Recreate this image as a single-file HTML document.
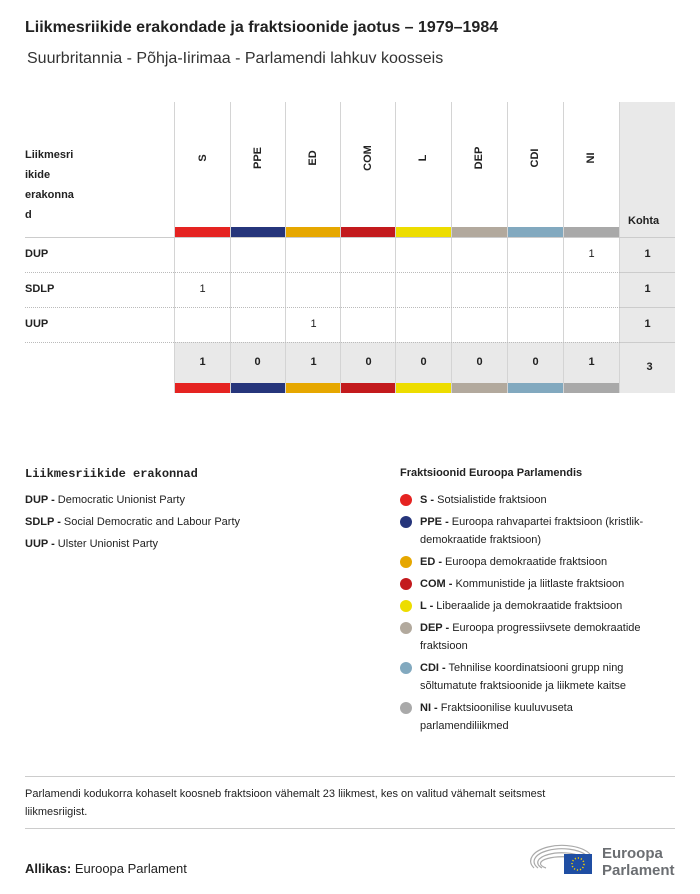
<!DOCTYPE html>
<html><head><meta charset="utf-8"><style>
body{margin:0;width:700px;height:894px;background:#fff;font-family:"Liberation Sans",sans-serif;color:#222;position:relative;overflow:hidden}
.a{position:absolute}
.b{font-weight:bold}
.vl{position:absolute;width:1px;background:#d4d4d4}
.hd{position:absolute;font-size:11px;font-weight:bold;transform:rotate(-90deg);transform-origin:center;width:60px;text-align:center}
.c{position:absolute;font-size:11px;text-align:center;width:55px}
.dot{position:absolute;width:12px;height:12px;border-radius:50%;left:400px}
.lg{position:absolute;left:420px;font-size:11px;line-height:18px;width:275px;white-space:nowrap}
</style></head><body>
<div class="a b" style="left:25px;top:19px;font-size:16px">Liikmesriikide erakondade ja fraktsioonide jaotus – 1979–1984</div>
<div class="a" style="left:27px;top:50px;font-size:16px;color:#333">Suurbritannia - Põhja-Iirimaa - Parlamendi lahkuv koosseis</div>

<div class="a" style="left:620px;top:102px;width:55px;height:291px;background:#e9e9e9"></div>
<div class="a" style="left:175px;top:342px;width:445px;height:41px;background:#e9e9e9"></div>

<div class="a b" style="left:25px;top:145px;font-size:11px;line-height:20px">Liikmesri<br>ikide<br>erakonna<br>d</div>

<div class="vl" style="left:174px;top:102px;height:291px"></div>
<div class="vl" style="left:230px;top:102px;height:291px"></div>
<div class="vl" style="left:285px;top:102px;height:291px"></div>
<div class="vl" style="left:340px;top:102px;height:291px"></div>
<div class="vl" style="left:395px;top:102px;height:291px"></div>
<div class="vl" style="left:451px;top:102px;height:291px"></div>
<div class="vl" style="left:507px;top:102px;height:291px"></div>
<div class="vl" style="left:563px;top:102px;height:291px"></div>
<div class="vl" style="left:619px;top:102px;height:291px"></div>

<div class="hd" style="left:173px;top:152px">S</div>
<div class="hd" style="left:228px;top:152px">PPE</div>
<div class="hd" style="left:283px;top:152px">ED</div>
<div class="hd" style="left:338px;top:152px">COM</div>
<div class="hd" style="left:393px;top:152px">L</div>
<div class="hd" style="left:449px;top:152px">DEP</div>
<div class="hd" style="left:505px;top:152px">CDI</div>
<div class="hd" style="left:561px;top:152px">NI</div>
<div class="a b" style="left:628px;top:215px;font-size:11px">Kohta</div>

<div class="a" style="left:25px;top:237px;width:650px;border-top:1px solid #ccc"></div>
<div class="a" style="left:25px;top:272px;width:595px;border-top:1px dotted #bbb"></div>
<div class="a" style="left:25px;top:307px;width:595px;border-top:1px dotted #bbb"></div>
<div class="a" style="left:25px;top:342px;width:595px;border-top:1px dotted #bbb"></div>
<div class="a" style="left:620px;top:272px;width:55px;border-top:1px solid #ccc"></div>
<div class="a" style="left:620px;top:307px;width:55px;border-top:1px solid #ccc"></div>
<div class="a" style="left:620px;top:342px;width:55px;border-top:1px solid #ccc"></div>

<div class="a b" style="left:25px;top:248px;font-size:11px">DUP</div>
<div class="a b" style="left:25px;top:283px;font-size:11px">SDLP</div>
<div class="a b" style="left:25px;top:318px;font-size:11px">UUP</div>

<div class="c" style="left:564px;top:248px">1</div>
<div class="c" style="left:175px;top:283px">1</div>
<div class="c" style="left:286px;top:318px">1</div>
<div class="c b" style="left:620px;top:248px">1</div>
<div class="c b" style="left:620px;top:283px">1</div>
<div class="c b" style="left:620px;top:318px">1</div>

<div class="c b" style="left:175px;top:356px">1</div>
<div class="c b" style="left:230px;top:356px">0</div>
<div class="c b" style="left:286px;top:356px">1</div>
<div class="c b" style="left:341px;top:356px">0</div>
<div class="c b" style="left:396px;top:356px">0</div>
<div class="c b" style="left:452px;top:356px">0</div>
<div class="c b" style="left:508px;top:356px">0</div>
<div class="c b" style="left:564px;top:356px">1</div>
<div class="c b" style="left:622px;top:361px">3</div>

<div class="a" style="left:175px;top:227px;width:55px;height:10px;background:#e52321"></div>
<div class="a" style="left:231px;top:227px;width:54px;height:10px;background:#26357b"></div>
<div class="a" style="left:286px;top:227px;width:54px;height:10px;background:#e6a700"></div>
<div class="a" style="left:341px;top:227px;width:54px;height:10px;background:#c31a1d"></div>
<div class="a" style="left:396px;top:227px;width:55px;height:10px;background:#eddd00"></div>
<div class="a" style="left:452px;top:227px;width:55px;height:10px;background:#b2a99d"></div>
<div class="a" style="left:508px;top:227px;width:55px;height:10px;background:#82a9bf"></div>
<div class="a" style="left:564px;top:227px;width:55px;height:10px;background:#a9a9a9"></div>

<div class="a" style="left:175px;top:383px;width:55px;height:10px;background:#e52321"></div>
<div class="a" style="left:231px;top:383px;width:54px;height:10px;background:#26357b"></div>
<div class="a" style="left:286px;top:383px;width:54px;height:10px;background:#e6a700"></div>
<div class="a" style="left:341px;top:383px;width:54px;height:10px;background:#c31a1d"></div>
<div class="a" style="left:396px;top:383px;width:55px;height:10px;background:#eddd00"></div>
<div class="a" style="left:452px;top:383px;width:55px;height:10px;background:#b2a99d"></div>
<div class="a" style="left:508px;top:383px;width:55px;height:10px;background:#82a9bf"></div>
<div class="a" style="left:564px;top:383px;width:55px;height:10px;background:#a9a9a9"></div>

<div class="a b" style="left:25px;top:467px;font-size:12px;font-family:'Liberation Mono',monospace">Liikmesriikide erakonnad</div>
<div class="a" style="left:25px;top:489px;font-size:11px;line-height:22px"><b>DUP -</b> Democratic Unionist Party<br><b>SDLP -</b> Social Democratic and Labour Party<br><b>UUP -</b> Ulster Unionist Party</div>

<div class="a b" style="left:400px;top:467px;font-size:11px">Fraktsioonid Euroopa Parlamendis</div>
<div class="dot" style="top:494px;background:#e52321"></div><div class="lg" style="top:491px"><b>S -</b> Sotsialistide fraktsioon</div>
<div class="dot" style="top:516px;background:#26357b"></div><div class="lg" style="top:513px"><b>PPE -</b> Euroopa rahvapartei fraktsioon (kristlik-<br>demokraatide fraktsioon)</div>
<div class="dot" style="top:556px;background:#e6a700"></div><div class="lg" style="top:553px"><b>ED -</b> Euroopa demokraatide fraktsioon</div>
<div class="dot" style="top:578px;background:#c31a1d"></div><div class="lg" style="top:575px"><b>COM -</b> Kommunistide ja liitlaste fraktsioon</div>
<div class="dot" style="top:600px;background:#eddd00"></div><div class="lg" style="top:597px"><b>L -</b> Liberaalide ja demokraatide fraktsioon</div>
<div class="dot" style="top:622px;background:#b2a99d"></div><div class="lg" style="top:619px"><b>DEP -</b> Euroopa progressiivsete demokraatide<br>fraktsioon</div>
<div class="dot" style="top:662px;background:#82a9bf"></div><div class="lg" style="top:659px"><b>CDI -</b> Tehnilise koordinatsiooni grupp ning<br>sõltumatute fraktsioonide ja liikmete kaitse</div>
<div class="dot" style="top:702px;background:#a9a9a9"></div><div class="lg" style="top:699px"><b>NI -</b> Fraktsioonilise kuuluvuseta<br>parlamendiliikmed</div>

<div class="a" style="left:25px;top:776px;width:650px;border-top:1px solid #ccc"></div>
<div class="a" style="left:25px;top:785px;width:640px;font-size:11px;line-height:18px">Parlamendi kodukorra kohaselt koosneb fraktsioon vähemalt 23 liikmest, kes on valitud vähemalt seitsmest<br>liikmesriigist.</div>
<div class="a" style="left:25px;top:828px;width:650px;border-top:1px solid #ccc"></div>
<div class="a" style="left:25px;top:861px;font-size:13px"><b>Allikas:</b> Euroopa Parlament</div>

<svg class="a" style="left:530px;top:840px" width="70" height="36" viewBox="0 0 70 36">
<g fill="none" stroke="#aaa" stroke-width="1.2">
<path d="M4 28 A28 14 0 0 1 60 14"/><path d="M8 28 A24 11 0 0 1 56 15"/><path d="M12 28 A20 8 0 0 1 52 17"/><path d="M16 28 A16 5 0 0 1 48 19"/>
</g>
<rect x="34" y="14" width="28" height="20" fill="#1f4ea3"/>
<circle cx="48" cy="24" r="6" fill="none" stroke="#f5d000" stroke-width="1.5" stroke-dasharray="1.2 1.9"/>
</svg>
<div class="a b" style="left:602px;top:845px;font-size:15px;line-height:17px;color:#6b6e72">Euroopa<br>Parlament</div>
</body></html>
